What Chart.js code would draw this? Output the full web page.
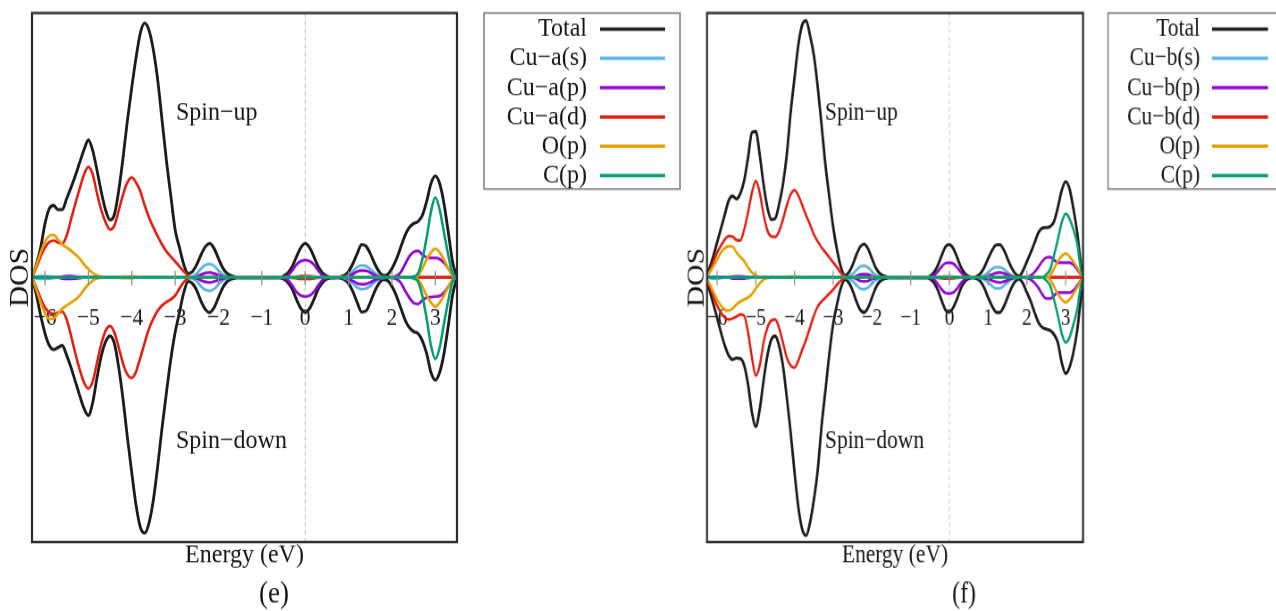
<!DOCTYPE html>
<html>
<head>
<meta charset="utf-8">
<script src="https://cdn.jsdelivr.net/npm/chart.js@4.4.1/dist/chart.umd.min.js"></script>
<style>
  html, body { margin: 0; padding: 0; background: #fff; }
  body { width: 1276px; height: 611px; position: relative; overflow: hidden; }
  .panel { position: absolute; top: 0; transform-origin: 0 0; }
</style>
</head>
<body>
<div class="panel" id="panelE"><canvas id="dosE"></canvas></div>
<div class="panel" id="panelF"><canvas id="dosF"></canvas></div>
<script>
// ---- energy grid (eV) and axis ticks ----
const energy = [
  -6.3,-6.2,-6.1,-6.0,-5.9,-5.8,-5.7,-5.6,-5.5,-5.4,
  -5.3,-5.2,-5.1,-5.0,-4.9,-4.8,-4.7,-4.6,-4.5,-4.4,
  -4.3,-4.2,-4.1,-4.0,-3.9,-3.8,-3.7,-3.6,-3.5,-3.4,
  -3.3,-3.2,-3.1,-3.0,-2.9,-2.8,-2.7,-2.6,-2.5,-2.4,
  -2.3,-2.2,-2.1,-2.0,-1.9,-1.8,-1.7,-1.6,-1.5,-1.4,
  -1.3,-1.2,-1.1,-1.0,-0.9,-0.8,-0.7,-0.6,-0.5,-0.4,
  -0.3,-0.2,-0.1,0.0,0.1,0.2,0.3,0.4,0.5,0.6,
  0.7,0.8,0.9,1.0,1.1,1.2,1.3,1.4,1.5,1.6,
  1.7,1.8,1.9,2.0,2.1,2.2,2.3,2.4,2.5,2.6,
  2.7,2.8,2.9,3.0,3.1,3.2,3.3,3.4,3.5
];
const energyTicks = [-6, -5, -4, -3, -2, -1, 0, 1, 2, 3];

const labelsE = ['Total', 'Cu\u2212a(s)', 'Cu\u2212a(p)', 'Cu\u2212a(d)', 'O(p)', 'C(p)'];
const labelsF = ['Total', 'Cu\u2212b(s)', 'Cu\u2212b(p)', 'Cu\u2212b(d)', 'O(p)', 'C(p)'];

// ---- panel (e): Cu-a site, spin-up (positive) / spin-down (negative) ----
const eTotalUp = [
  0,1.3,3.0,5.4,6.9,7.2,6.8,6.8,7.9,9.0,
  10.2,11.5,12.8,13.75,12.7,10.7,8.5,6.7,5.75,6.3,
  8.7,12.0,15.7,19.0,22.0,24.5,25.45,24.7,22.7,19.7,
  15.7,11.7,8.2,4.8,3.0,1.3,0.4,0.6,1.3,2.3,
  3.1,3.4,2.9,1.9,0.95,0.4,0.15,0.05,0,0,
  0,0,0,0,0,0,0,0,0.15,0.45,
  1.1,2.1,3.0,3.4,3.0,2.1,1.1,0.45,0.15,0.03,
  0,0.05,0.2,0.6,1.4,2.4,3.3,3.15,2.4,1.4,
  0.6,0.2,0.3,0.9,1.8,3.0,4.2,5.0,5.4,5.6,
  6.2,7.6,9.4,10.15,9.4,7.4,4.5,1.5,0
];
const eTotalDn = [
  0,-1.7,-3.8,-5.6,-6.8,-7.2,-7.0,-6.8,-7.8,-9.0,
  -10.4,-11.8,-13.1,-13.8,-12.5,-10.0,-7.8,-6.4,-5.85,-6.6,
  -9.0,-12.2,-16.0,-19.5,-22.8,-25.0,-25.55,-24.5,-22.2,-18.8,
  -15.0,-11.5,-8.2,-5.5,-3.5,-1.5,-0.4,-0.6,-1.3,-2.4,
  -3.2,-3.5,-3.0,-2.0,-1.0,-0.4,-0.15,-0.05,0,0,
  0,0,0,0,0,0,0,0,-0.15,-0.5,
  -1.15,-2.2,-3.1,-3.5,-3.1,-2.2,-1.15,-0.5,-0.15,-0.03,
  0,-0.05,-0.2,-0.6,-1.4,-2.5,-3.45,-3.35,-2.5,-1.4,
  -0.6,-0.2,-0.3,-0.9,-1.8,-3.0,-4.2,-5.0,-5.4,-5.6,
  -6.3,-7.6,-9.5,-10.25,-9.5,-7.6,-4.8,-1.7,0
];
const eCuSUp = [
  0,0.1,0.15,0.15,0.1,0.05,0,0,0,0,
  0,0,0,0,0,0,0,0,0,0,
  0,0,0,0,0,0,0,0,0,0,
  0,0,0,0,0,0,0,0.1,0.4,0.9,
  1.25,1.34,1.15,0.7,0.3,0.1,0,0,0,0,
  0,0,0,0,0,0,0,0,0,0,
  0,0,0,0,0,0,0,0,0,0,
  0,0,0.05,0.25,0.65,1.05,1.2,1.15,0.85,0.45,
  0.15,0.03,0,0,0,0,0,0,0,0,
  0,0,0,0,0,0,0,0,0
];
const eCuSDn = [
  0,-0.1,-0.15,-0.15,-0.1,-0.05,0,0,0,0,
  0,0,0,0,0,0,0,0,0,0,
  0,0,0,0,0,0,0,0,0,0,
  0,0,0,0,0,0,0,-0.1,-0.4,-0.9,
  -1.25,-1.33,-1.15,-0.7,-0.3,-0.1,0,0,0,0,
  0,0,0,0,0,0,0,0,0,0,
  0,0,0,0,0,0,0,0,0,0,
  0,0,-0.05,-0.25,-0.6,-1.0,-1.16,-1.1,-0.85,-0.45,
  -0.15,-0.03,0,0,0,0,0,0,0,0,
  0,0,0,0,0,0,0,0,0
];
const eCuPUp = [
  0,0,0,0,0,0,0,0.1,0.15,0.15,
  0.1,0.05,0,0,0,0,0,0,0,0,
  0,0,0,0,0,0,0,0,0,0,
  0,0,0,0,0,0,0,0,0.1,0.3,
  0.45,0.5,0.4,0.25,0.1,0.03,0,0,0,0,
  0,0,0,0,0,0,0,0,0.05,0.2,
  0.7,1.3,1.65,1.74,1.65,1.3,0.7,0.2,0.05,0,
  0,0,0,0.15,0.35,0.6,0.7,0.68,0.5,0.25,
  0.1,0.02,0,0.05,0.15,0.5,1.3,2.1,2.55,2.65,
  2.3,2.0,1.95,1.95,1.85,1.5,0.9,0.3,0
];
const eCuPDn = [
  0,0,0,0,0,0,0,-0.1,-0.15,-0.15,
  -0.1,-0.05,0,0,0,0,0,0,0,0,
  0,0,0,0,0,0,0,0,0,0,
  0,0,0,0,0,0,0,0,-0.1,-0.3,
  -0.45,-0.5,-0.4,-0.25,-0.1,-0.03,0,0,0,0,
  0,0,0,0,0,0,0,0,-0.05,-0.25,
  -0.8,-1.45,-1.8,-1.9,-1.8,-1.45,-0.8,-0.25,-0.05,0,
  0,0,0,-0.15,-0.35,-0.58,-0.66,-0.64,-0.48,-0.25,
  -0.1,-0.02,0,-0.05,-0.15,-0.5,-1.3,-2.0,-2.55,-2.65,
  -2.3,-2.0,-1.95,-1.9,-1.85,-1.5,-0.9,-0.3,0
];
const eCuDUp = [
  0,1.0,2.1,3.0,3.55,3.7,3.5,3.4,4.2,5.8,
  7.4,8.9,10.3,11.05,10.3,8.4,6.7,5.5,4.8,5.2,
  6.7,8.3,9.5,10.0,9.5,8.6,7.2,6.0,5.0,4.1,
  3.3,2.6,2.1,1.6,1.1,0.6,0.2,0,0,0,
  0,0,0,0,0,0,0,0,0,0,
  0,0,0,0,0,0,0,0,0,0,
  0.03,0.08,0.13,0.15,0.13,0.08,0.03,0,0,0,
  0,0,0,0,0,0,0,0,0,0,
  0,0,0,0,0,0,0,0,0,0,
  0,0,0,0,0,0,0,0,0
];
const eCuDDn = [
  0,-1.0,-2.1,-3.0,-3.5,-3.65,-3.5,-3.4,-4.2,-5.8,
  -7.6,-9.2,-10.5,-11.1,-10.4,-8.5,-6.6,-5.3,-4.85,-5.5,
  -7.0,-8.6,-9.7,-10.05,-9.4,-8.0,-6.5,-5.1,-4.1,-3.3,
  -2.8,-2.45,-2.2,-1.8,-1.1,-0.45,-0.1,0,0,0,
  0,0,0,0,0,0,0,0,0,0,
  0,0,0,0,0,0,0,0,0,0,
  -0.03,-0.08,-0.13,-0.15,-0.13,-0.08,-0.03,0,0,0,
  0,0,0,0,0,0,0,0,0,0,
  0,0,0,0,0,0,0,0,0,0,
  0,0,0,0,0,0,0,0,0
];
const eOPUp = [
  0,1.2,2.5,3.6,4.15,4.25,3.8,3.3,3.0,2.7,
  2.3,1.9,1.3,0.85,0.45,0.2,0.1,0.05,0,0,
  0.05,0.1,0.1,0.1,0.1,0.05,0,0,0,0,
  0,0,0,0,0,0,0,0,0,0,
  0,0,0,0,0,0,0,0,0,0,
  0,0,0,0,0,0,0,0,0,0,
  0,0,0,0,0,0,0,0,0,0,
  0,0,0,0,0,0,0,0,0,0,
  0,0,0,0,0,0,0,0,0,0.2,
  0.9,1.8,2.5,2.9,2.5,1.8,0.9,0.2,0
];
const eOPDn = [
  0,-1.2,-2.5,-3.6,-4.15,-4.1,-3.6,-3.1,-2.8,-2.5,
  -2.2,-1.8,-1.2,-0.7,-0.3,-0.1,-0.03,0,0,0,
  0,-0.05,-0.05,-0.05,0,0,0,0,0,0,
  0,0,0,0,0,0,0,0,0,0,
  0,0,0,0,0,0,0,0,0,0,
  0,0,0,0,0,0,0,0,0,0,
  0,0,0,0,0,0,0,0,0,0,
  0,0,0,0,0,0,0,0,0,0,
  0,0,0,0,0,0,0,0,0,-0.2,
  -0.9,-1.8,-2.5,-2.93,-2.5,-1.8,-0.9,-0.2,0
];
const eCPUp = [
  0,0,0,0,0,0,0,0,0,0,
  0,0,0,0,0,0,0,0,0,0,
  0,0,0,0,0,0,0,0,0,0,
  0,0,0,0,0,0,0,0,0,0,
  0,0,0,0,0,0,0,0,0,0,
  0,0,0,0,0,0,0,0,0,0,
  0,0,0,0,0,0,0,0,0,0,
  0,0,0,0,0,0,0,0,0,0,
  0,0,0,0,0,0,0,0,0.1,0.4,
  1.8,4.0,6.6,8.0,6.8,4.5,2.2,0.4,0
];
const eCPDn = [
  0,0,0,0,0,0,0,0,0,0,
  0,0,0,0,0,0,0,0,0,0,
  0,0,0,0,0,0,0,0,0,0,
  0,0,0,0,0,0,0,0,0,0,
  0,0,0,0,0,0,0,0,0,0,
  0,0,0,0,0,0,0,0,0,0,
  0,0,0,0,0,0,0,0,0,0,
  0,0,0,0,0,0,0,0,0,0,
  0,0,0,0,0,0,0,0,-0.1,-0.4,
  -1.8,-4.1,-6.8,-8.15,-7.0,-4.6,-2.3,-0.4,0
];

// ---- panel (f): Cu-b site ----
const fTotalUp = [
  0,0.9,2.1,3.5,4.9,6.3,7.7,8.15,7.85,8.4,
  9.7,12.0,14.5,14.6,12.3,9.3,7.0,5.8,5.9,7.3,
  9.3,12.3,16.5,20.0,23.3,25.3,25.7,24.2,22.2,19.0,
  15.2,11.2,8.0,5.0,2.7,1.0,0.2,0.5,1.25,2.3,
  3.1,3.34,2.85,1.9,0.95,0.4,0.15,0.05,0,0,
  0,0,0,0,0,0,0,0,0.15,0.5,
  1.2,2.2,3.1,3.3,2.9,2.0,1.0,0.4,0.1,0,
  0.1,0.4,1.0,1.9,2.7,3.25,3.3,2.8,1.9,1.0,
  0.4,0.15,0.7,1.6,2.5,3.5,4.5,4.95,5.0,5.1,
  5.6,7.0,8.7,9.6,8.9,6.9,4.5,1.2,0
];
const fTotalDn = [
  0,-1.2,-2.6,-4.0,-5.5,-6.8,-7.8,-8.2,-8.05,-8.1,
  -8.8,-10.7,-13.5,-14.9,-13.2,-10.3,-7.8,-6.2,-5.85,-6.8,
  -8.8,-12.0,-15.5,-19.5,-23.0,-25.2,-25.8,-24.5,-22.2,-19.2,
  -14.8,-11.2,-7.6,-4.6,-2.6,-1.0,-0.2,-0.5,-1.3,-2.4,
  -3.25,-3.5,-3.0,-2.0,-1.0,-0.4,-0.15,-0.05,0,0,
  0,0,0,0,0,0,0,0,-0.15,-0.5,
  -1.25,-2.3,-3.25,-3.45,-3.0,-2.1,-1.05,-0.4,-0.1,0,
  -0.1,-0.4,-1.05,-2.0,-2.85,-3.45,-3.5,-2.95,-2.0,-1.05,
  -0.4,-0.15,-0.6,-1.5,-2.4,-3.5,-4.5,-5.0,-5.15,-5.3,
  -5.7,-6.5,-8.5,-9.6,-9.0,-7.5,-5.3,-2.0,0
];
const fCuSUp = [
  0,0.05,0.1,0.1,0.05,0,0,0,0,0,
  0,0,0,0,0,0,0,0,0,0,
  0,0,0,0,0,0,0,0,0,0,
  0,0,0,0,0,0,0,0.1,0.35,0.75,
  1.1,1.17,1.0,0.6,0.25,0.08,0,0,0,0,
  0,0,0,0,0,0,0,0,0,0,
  0,0,0,0,0,0,0,0,0,0,
  0,0.05,0.2,0.5,0.85,1.05,1.05,0.85,0.5,0.2,
  0.06,0,0,0,0,0,0,0,0,0,
  0,0,0,0,0,0,0,0,0
];
const fCuSDn = [
  0,-0.05,-0.1,-0.1,-0.05,0,0,0,0,0,
  0,0,0,0,0,0,0,0,0,0,
  0,0,0,0,0,0,0,0,0,0,
  0,0,0,0,0,0,0,-0.1,-0.35,-0.75,
  -1.1,-1.16,-1.0,-0.6,-0.25,-0.08,0,0,0,0,
  0,0,0,0,0,0,0,0,0,0,
  0,0,0,0,0,0,0,0,0,0,
  0,-0.05,-0.2,-0.5,-0.85,-1.08,-1.08,-0.85,-0.5,-0.2,
  -0.06,0,0,0,0,0,0,0,0,0,
  0,0,0,0,0,0,0,0,0
];
const fCuPUp = [
  0,0,0,0,0,0,0,0.1,0.12,0.12,
  0.1,0.05,0,0,0,0,0,0,0,0,
  0,0,0,0,0,0,0,0,0,0,
  0,0,0,0,0,0,0,0,0,0.15,
  0.3,0.35,0.3,0.15,0.05,0,0,0,0,0,
  0,0,0,0,0,0,0,0,0.05,0.2,
  0.6,1.1,1.45,1.5,1.4,1.0,0.5,0.15,0.03,0,
  0,0,0.05,0.15,0.3,0.45,0.5,0.42,0.28,0.12,
  0.04,0,0,0.05,0.2,0.55,1.05,1.65,2.0,2.05,
  1.75,1.5,1.5,1.5,1.5,1.3,0.8,0.25,0
];
const fCuPDn = [
  0,0,0,0,0,0,0,-0.1,-0.12,-0.12,
  -0.1,-0.05,0,0,0,0,0,0,0,0,
  0,0,0,0,0,0,0,0,0,0,
  0,0,0,0,0,0,0,0,0,-0.15,
  -0.35,-0.4,-0.35,-0.15,-0.05,0,0,0,0,0,
  0,0,0,0,0,0,0,0,-0.05,-0.2,
  -0.65,-1.2,-1.55,-1.6,-1.5,-1.1,-0.55,-0.15,-0.03,0,
  0,0,-0.05,-0.15,-0.3,-0.45,-0.5,-0.42,-0.28,-0.12,
  -0.04,0,0,-0.05,-0.2,-0.55,-1.05,-1.7,-2.1,-2.1,
  -1.8,-1.5,-1.5,-1.5,-1.5,-1.3,-0.8,-0.25,0
];
const fCuDUp = [
  0,0.5,1.5,2.5,3.2,3.8,4.15,4.1,3.75,3.7,
  4.8,6.5,8.5,9.65,8.5,6.3,4.7,4.1,4.05,4.6,
  5.8,7.2,8.3,8.75,8.2,7.2,6.2,5.3,4.3,3.6,
  3.0,2.5,2.0,1.5,1.0,0.45,0.1,0,0,0,
  0,0,0,0,0,0,0,0,0,0,
  0,0,0,0,0,0,0,0,0,0,
  0.03,0.07,0.1,0.1,0.07,0.03,0,0,0,0,
  0,0,0,0,0,0,0,0,0,0,
  0,0,0,0,0,0,0,0,0,0,
  0,0,0,0,0,0,0,0,0
];
const fCuDDn = [
  0,-0.8,-1.8,-2.8,-3.5,-4.0,-4.2,-4.1,-3.9,-3.7,
  -3.8,-5.5,-8.0,-9.8,-8.8,-6.5,-5.0,-4.3,-4.2,-5.0,
  -6.5,-8.0,-8.8,-9.0,-8.3,-7.2,-6.2,-5.0,-3.8,-2.9,
  -2.4,-2.0,-1.6,-1.2,-0.7,-0.3,-0.1,0,0,0,
  0,0,0,0,0,0,0,0,0,0,
  0,0,0,0,0,0,0,0,0,0,
  -0.03,-0.07,-0.1,-0.1,-0.07,-0.03,0,0,0,0,
  0,0,0,0,0,0,0,0,0,0,
  0,0,0,0,0,0,0,0,0,0,
  0,0,0,0,0,0,0,0,0
];
const fOPUp = [
  0,0.5,1.1,1.8,2.5,2.95,3.15,3.1,2.5,2.05,
  1.65,1.0,0.5,0.2,0.05,0,0,0,0,0,
  0.05,0.1,0.1,0.1,0.1,0.05,0,0,0,0,
  0,0,0,0,0,0,0,0,0,0,
  0,0,0,0,0,0,0,0,0,0,
  0,0,0,0,0,0,0,0,0,0,
  0,0,0,0,0,0,0,0,0,0,
  0,0,0,0,0,0,0,0,0,0,
  0,0,0,0,0,0,0,0,0,0.2,
  0.9,1.6,2.15,2.4,2.1,1.6,1.0,0.3,0
];
const fOPDn = [
  0,-0.6,-1.4,-2.2,-2.8,-3.2,-3.3,-3.1,-2.7,-2.4,
  -2.2,-2.0,-1.65,-1.1,-0.6,-0.2,-0.05,0,0,0,
  0,0,0,0,0,0,0,0,0,0,
  0,0,0,0,0,0,0,0,0,0,
  0,0,0,0,0,0,0,0,0,0,
  0,0,0,0,0,0,0,0,0,0,
  0,0,0,0,0,0,0,0,0,0,
  0,0,0,0,0,0,0,0,0,0,
  0,0,0,0,0,0,0,0,0,-0.2,
  -0.9,-1.65,-2.2,-2.5,-2.2,-1.65,-1.0,-0.3,0
];
const fCPUp = [
  0,0,0,0,0,0,0,0,0,0,
  0,0,0,0,0,0,0,0,0,0,
  0,0,0,0,0,0,0,0,0,0,
  0,0,0,0,0,0,0,0,0,0,
  0,0,0,0,0,0,0,0,0,0,
  0,0,0,0,0,0,0,0,0,0,
  0,0,0,0,0,0,0,0,0,0,
  0,0,0,0,0,0,0,0,0,0,
  0,0,0,0,0,0,0,0,0.3,0.8,
  2.2,3.8,5.5,6.4,5.9,4.8,3.4,0.7,0
];
const fCPDn = [
  0,0,0,0,0,0,0,0,0,0,
  0,0,0,0,0,0,0,0,0,0,
  0,0,0,0,0,0,0,0,0,0,
  0,0,0,0,0,0,0,0,0,0,
  0,0,0,0,0,0,0,0,0,0,
  0,0,0,0,0,0,0,0,0,0,
  0,0,0,0,0,0,0,0,0,0,
  0,0,0,0,0,0,0,0,0,0,
  0,0,0,0,0,0,0,0,-0.3,-0.8,
  -2.2,-3.8,-5.6,-6.5,-6.0,-4.7,-3.2,-0.7,0
];

// ---- styling ----
const FONT = "'Liberation Serif', 'Times New Roman', serif";
const INK = '#151515';
const lineColors = ['#1b1b1b', '#56b4e9', '#9400d3', '#e51e10', '#e69f00', '#009e73'];
const DOS_MAX = 26.45;
const SY = 1.12;                        // vertical stretch of both panels
const CANVAS_H = Math.round(611 / SY);

// panel geometry in page pixels; converted to canvas units below
const panelSpecs = [
  {
    canvas: 'dosE', holder: 'panelE', pageX: 0, pageW: 690, sx: 1,
    xMin: -6.3, xMax: 3.5,
    plot: { left: 32, right: 457, top: 13, bottom: 542 },
    dosX: 21, energyY: 555,
    labels: labelsE,
    up:   [eTotalUp, eCuSUp, eCuPUp, eCuDUp, eOPUp, eCPUp],
    down: [eTotalDn, eCuSDn, eCuPDn, eCuDDn, eOPDn, eCPDn],
    legend: { left: 484, top: 13, right: 680, bottom: 189, textRight: 587, line0: 600, line1: 665, row0: 29, rowStep: 29.3 },
    notes: [
      { text: 'Spin\u2212up', x: 176, y: 120, align: 'left', size: 24 },
      { text: 'Spin\u2212down', x: 176, y: 448, align: 'left', size: 24 },
      { text: '(e)', x: 274, y: 603, align: 'center', size: 27 }
    ]
  },
  {
    canvas: 'dosF', holder: 'panelF', pageX: 684, pageW: 592, sx: 0.8935,
    xMin: -6.26, xMax: 3.45,
    plot: { left: 707, right: 1083, top: 13, bottom: 542 },
    dosX: 697, energyY: 555,
    labels: labelsF,
    up:   [fTotalUp, fCuSUp, fCuPUp, fCuDUp, fOPUp, fCPUp],
    down: [fTotalDn, fCuSDn, fCuPDn, fCuDDn, fOPDn, fCPDn],
    legend: { left: 1108, top: 13, right: 1300, bottom: 189, textRight: 1200, line0: 1212, line1: 1268, row0: 29, rowStep: 29.3 },
    notes: [
      { text: 'Spin\u2212up', x: 825, y: 120, align: 'left', size: 24 },
      { text: 'Spin\u2212down', x: 825, y: 448, align: 'left', size: 24 },
      { text: '(f)', x: 964, y: 603, align: 'center', size: 27 }
    ]
  }
];

const minusLabel = v => (v < 0 ? '\u2212' + Math.abs(v) : String(v));

// Fermi level, zero-axis tick marks, frame, key box and annotations
const dosDecor = {
  id: 'dosDecor',
  beforeDatasetsDraw(chart) {
    const { ctx, chartArea: a } = chart;
    const xf = chart.scales.x.getPixelForValue(0);
    ctx.save();
    ctx.strokeStyle = '#c4c4c4';
    ctx.lineWidth = 1;
    ctx.setLineDash([4, 3]);
    ctx.beginPath();
    ctx.moveTo(xf, a.top);
    ctx.lineTo(xf, a.bottom);
    ctx.stroke();
    ctx.restore();
  },
  afterDatasetsDraw(chart, _args, opts) {
    const { ctx, chartArea: a } = chart;
    const xs = chart.scales.x;
    const y0 = chart.scales.y.getPixelForValue(0);
    ctx.save();
    ctx.strokeStyle = '#8c8c8c';
    ctx.lineWidth = 1.2;
    energyTicks.forEach(v => {
      const px = xs.getPixelForValue(v);
      ctx.beginPath();
      ctx.moveTo(px, y0 - 6);
      ctx.lineTo(px, y0 + 7);
      ctx.stroke();
    });
    ctx.strokeStyle = '#2a2a2a';
    ctx.lineWidth = 2.2;
    ctx.strokeRect(a.left, a.top, a.right - a.left, a.bottom - a.top);

    const L = opts.key;
    ctx.strokeStyle = '#7c7c7c';
    ctx.lineWidth = 1.5;
    ctx.strokeRect(L.left, L.top, L.right - L.left, L.bottom - L.top);
    ctx.font = `${L.size}px ${FONT}`;
    ctx.textAlign = 'right';
    ctx.textBaseline = 'middle';
    chart.data.datasets.filter(d => d.spin === 'up').forEach((d, i) => {
      const y = L.row0 + i * L.rowStep;
      ctx.fillStyle = INK;
      ctx.fillText(d.label, L.textRight, y);
      ctx.strokeStyle = d.borderColor;
      ctx.lineWidth = 3;
      ctx.beginPath();
      ctx.moveTo(L.line0, y);
      ctx.lineTo(L.line1, y);
      ctx.stroke();
    });
    ctx.textBaseline = 'alphabetic';
    ctx.fillStyle = INK;
    opts.notes.forEach(n => {
      ctx.font = `${n.size}px ${FONT}`;
      ctx.textAlign = n.align;
      ctx.fillText(n.text, n.x, n.y);
    });
    ctx.restore();
  }
};

function buildPanel(p) {
  [...p.up, ...p.down].forEach(s => {
    if (s.length !== energy.length) throw new Error('series length ' + s.length);
  });
  const cw = Math.round(p.pageW / p.sx);
  const cx = v => (v - p.pageX) / p.sx;   // page x -> canvas x
  const cy = v => v / SY;                 // page y -> canvas y

  const holder = document.getElementById(p.holder);
  holder.style.left = p.pageX + 'px';
  holder.style.transform = `scale(${p.sx}, ${SY})`;
  const canvas = document.getElementById(p.canvas);
  canvas.width = cw;
  canvas.height = CANVAS_H;

  const datasets = [];
  p.up.forEach((upVals, k) => {
    const order = p.up.length - 1 - k;
    [[upVals, 'up'], [p.down[k], 'down']].forEach(([vals, spin]) => {
      datasets.push({
        label: p.labels[k],
        spin,
        data: energy.map((e, i) => ({ x: e, y: vals[i] })),
        borderColor: lineColors[k],
        borderWidth: k === 0 ? 2.8 : 2.5,
        pointRadius: 0,
        fill: false,
        cubicInterpolationMode: 'monotone',
        order
      });
    });
  });

  const plotLeft = cx(p.plot.left);
  const plotRight = cx(p.plot.right);
  const plotTop = cy(p.plot.top);
  const plotBottom = cy(p.plot.bottom);
  const titleHalf = 24 * 1.2 / 2;
  const dosHalf = 26.5 * 1.2 / 2;
  const tickPad = cy(304) - cy(277);

  new Chart(canvas, {
    type: 'line',
    data: { datasets },
    options: {
      responsive: false,
      animation: false,
      events: [],
      layout: { padding: { left: 0, top: plotTop, right: cw - plotRight, bottom: 0 } },
      plugins: {
        legend: { display: false },
        tooltip: { enabled: false },
        dosDecor: {
          key: {
            left: cx(p.legend.left), right: cx(p.legend.right),
            top: cy(p.legend.top), bottom: cy(p.legend.bottom),
            textRight: cx(p.legend.textRight), line0: cx(p.legend.line0), line1: cx(p.legend.line1),
            row0: cy(p.legend.row0), rowStep: p.legend.rowStep / SY, size: 24
          },
          notes: p.notes.map(n => ({ text: n.text, x: cx(n.x), y: cy(n.y), align: n.align, size: n.size }))
        }
      },
      scales: {
        x: {
          type: 'linear',
          min: p.xMin, max: p.xMax,
          position: { y: 0 },
          afterBuildTicks: s => { s.ticks = energyTicks.map(v => ({ value: v })); },
          ticks: {
            autoSkip: false, maxRotation: 0, padding: tickPad,
            color: INK, font: { family: FONT, size: 21.5 },
            callback: v => minusLabel(v)
          },
          grid: { display: false, drawTicks: false },
          border: { display: false }
        },
        xTitle: {
          type: 'linear', axis: 'x',
          min: p.xMin, max: p.xMax,
          position: 'bottom',
          afterFit: s => { s.height = CANVAS_H - plotBottom; },
          ticks: { display: false },
          grid: { display: false, drawTicks: false },
          border: { display: false },
          title: {
            display: true, text: 'Energy (eV)', color: INK,
            font: { family: FONT, size: 24 },
            padding: { top: 0, bottom: CANVAS_H - cy(p.energyY) - titleHalf }
          }
        },
        y: {
          type: 'linear',
          min: -DOS_MAX, max: DOS_MAX,
          position: 'left',
          afterFit: s => { s.width = plotLeft; },
          ticks: { display: false },
          grid: { display: false, drawTicks: false },
          border: { display: false },
          title: {
            display: true, text: 'DOS', color: INK,
            font: { family: FONT, size: 26.5 },
            padding: { top: cx(p.dosX) - dosHalf, bottom: 0 }
          }
        }
      }
    },
    plugins: [dosDecor]
  });
}

panelSpecs.forEach(buildPanel);
</script>
</body>
</html>
